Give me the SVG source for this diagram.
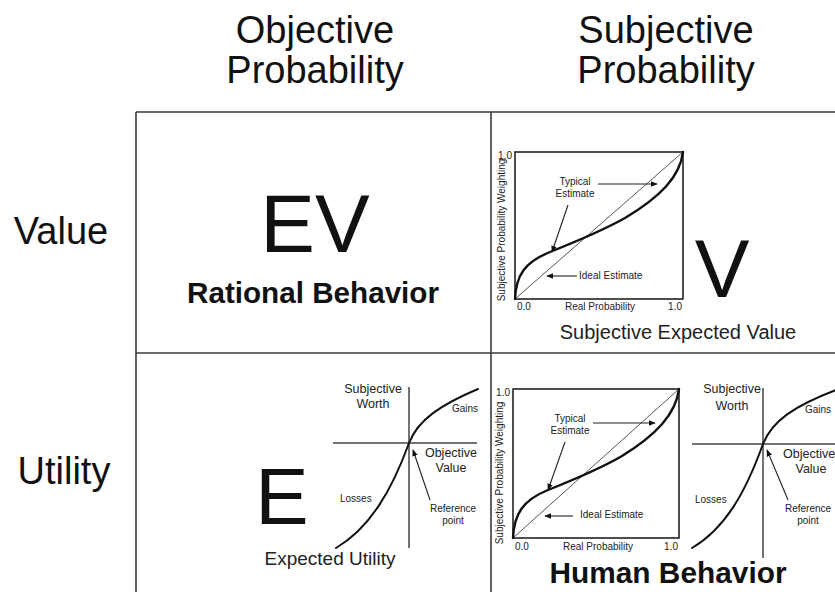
<svg xmlns="http://www.w3.org/2000/svg" width="835" height="592" viewBox="0 0 835 592">
  <defs>
    <marker id="head" viewBox="0 0 10 10" refX="9" refY="5" markerWidth="7" markerHeight="7" orient="auto" markerUnits="userSpaceOnUse">
      <path d="M0,1 L10,5 L0,9 z" fill="#111"/>
    </marker>
    <style>
      text { font-family: "Liberation Sans", Arial, sans-serif; fill: #111; }
      .hdr { font-size: 38px; text-anchor: middle; }
      .row { font-size: 38px; text-anchor: middle; }
      .big { font-size: 82px; text-anchor: middle; }
      .bold { font-size: 29px; font-weight: bold; text-anchor: middle; }
      .cap { font-size: 20px; text-anchor: middle; fill: #222; }
      .sm { font-size: 10px; fill: #222; }
      .mid { text-anchor: middle; }
      .end { text-anchor: end; }
      .md { font-size: 12.5px; fill: #222; }
      .grid { stroke: #3a3a3a; stroke-width: 1.6; fill: none; }
      .frame { stroke: #222; stroke-width: 1.6; fill: none; }
      .diag { stroke: #555; stroke-width: 1; fill: none; }
      .curve { stroke: #111; stroke-width: 2.4; fill: none; stroke-linecap: round; }
      .axis { stroke: #444; stroke-width: 1.5; fill: none; }
      .vcurve { stroke: #111; stroke-width: 2; fill: none; stroke-linecap: round; }
      .arrow { stroke: #222; stroke-width: 1.1; fill: none; marker-end: url(#head); }
    </style>
  </defs>

  <!-- table grid -->
  <g id="grid">
    <line class="grid" x1="136" y1="112" x2="835" y2="112"/>
    <line class="grid" x1="136" y1="112" x2="136" y2="592"/>
    <line class="grid" x1="491" y1="112" x2="491" y2="592"/>
    <line class="grid" x1="136" y1="353" x2="835" y2="353"/>
  </g>

  <!-- column headers -->
  <g id="col-objective">
    <text class="hdr" x="315" y="43">Objective</text>
    <text class="hdr" x="315" y="83">Probability</text>
  </g>
  <g id="col-subjective">
    <text class="hdr" x="666" y="43">Subjective</text>
    <text class="hdr" x="666" y="83">Probability</text>
  </g>

  <!-- row headers -->
  <g id="row-value"><text class="row" x="61" y="244">Value</text></g>
  <g id="row-utility"><text class="row" x="64" y="484">Utility</text></g>

  <!-- objective probability / value -->
  <g id="cell-ev">
    <text class="big" x="315" y="252">EV</text>
    <text class="bold" x="313" y="303" textLength="252" lengthAdjust="spacingAndGlyphs">Rational Behavior</text>
  </g>

  <!-- subjective probability / value -->
  <g id="cell-v">
    <g id="prob-chart-top" transform="translate(515,152)">
      <rect class="frame" x="0" y="0" width="168" height="147"/>
      <line class="diag" x1="0" y1="147" x2="168" y2="0"/>
      <path class="curve" d="M0,147 C1,123 10,110 35,100 C60,90 85,80 110,66 C145,45 165,25 168,0"/>
      <text class="sm end" x="-3" y="7">1.0</text>
      <text class="sm mid" transform="translate(-10,78) rotate(-90)">Subjective Probability Weighting</text>
      <text class="sm" x="2" y="158">0.0</text>
      <text class="sm mid" x="85" y="158">Real Probability</text>
      <text class="sm end" x="167" y="158">1.0</text>
      <text class="sm mid" x="60" y="33">Typical</text>
      <text class="sm mid" x="60" y="45">Estimate</text>
      <text class="sm" x="64" y="127">Ideal Estimate</text>
      <line class="arrow" x1="83" y1="32" x2="142" y2="32"/>
      <line class="arrow" x1="53" y1="53" x2="37" y2="100"/>
      <line class="arrow" x1="62" y1="124" x2="32" y2="124"/>
    </g>
    <text class="big" x="722" y="297">V</text>
    <text class="cap" x="678" y="339">Subjective Expected Value</text>
  </g>

  <!-- objective probability / utility -->
  <g id="cell-e">
    <text class="big" x="282" y="524" style="font-size:80px">E</text>
    <text class="cap" x="330" y="565" style="font-size:19px">Expected Utility</text>
    <g id="value-fn-left">
      <line class="axis" x1="409" y1="387" x2="409" y2="548"/>
      <line class="axis" x1="333" y1="443" x2="477" y2="443"/>
      <path class="vcurve" d="M336,548 C370,528 392,490 409,443 C418,420 440,405 478,389"/>
      <text class="md mid" x="373" y="393">Subjective</text>
      <text class="md mid" x="373" y="408">Worth</text>
      <text class="sm" x="452" y="412">Gains</text>
      <text class="md mid" x="451" y="457">Objective</text>
      <text class="md mid" x="451" y="472">Value</text>
      <text class="sm" x="340" y="502">Losses</text>
      <text class="sm mid" x="453" y="512">Reference</text>
      <text class="sm mid" x="453" y="524">point</text>
      <line class="arrow" x1="430" y1="500" x2="413" y2="450"/>
    </g>
  </g>

  <!-- subjective probability / utility -->
  <g id="cell-human">
    <g id="prob-chart-bottom" transform="translate(513,389)">
      <rect class="frame" x="0" y="0" width="166" height="149"/>
      <line class="diag" x1="0" y1="149" x2="166" y2="0"/>
      <path class="curve" d="M0,149 C1,125 10,111 35,101 C60,91 85,81 109,67 C143,46 163,25 166,0"/>
      <text class="sm end" x="-3" y="7">1.0</text>
      <text class="sm mid" transform="translate(-10,84) rotate(-90)">Subjective Probability Weighting</text>
      <text class="sm" x="2" y="161">0.0</text>
      <text class="sm mid" x="85" y="161">Real Probability</text>
      <text class="sm end" x="165" y="161">1.0</text>
      <text class="sm mid" x="57" y="33">Typical</text>
      <text class="sm mid" x="57" y="45">Estimate</text>
      <text class="sm" x="67" y="129">Ideal Estimate</text>
      <line class="arrow" x1="80" y1="34" x2="142" y2="34"/>
      <line class="arrow" x1="52" y1="53" x2="35" y2="101"/>
      <line class="arrow" x1="60" y1="127" x2="32" y2="127"/>
    </g>
    <g id="value-fn-right">
      <line class="axis" x1="763" y1="388" x2="763" y2="558"/>
      <line class="axis" x1="692" y1="444" x2="835" y2="444"/>
      <path class="vcurve" d="M692,548 C726,528 746,491 763,444 C772,421 794,406 836,390"/>
      <text class="md mid" x="732" y="393">Subjective</text>
      <text class="md mid" x="732" y="410">Worth</text>
      <text class="sm" x="805" y="413">Gains</text>
      <text class="md" x="783" y="458">Objective</text>
      <text class="md mid" x="811" y="473">Value</text>
      <text class="sm" x="695" y="503">Losses</text>
      <text class="sm mid" x="808" y="512">Reference</text>
      <text class="sm mid" x="808" y="524">point</text>
      <line class="arrow" x1="788" y1="500" x2="767" y2="450"/>
    </g>
    <text class="bold" x="668" y="583" textLength="237" lengthAdjust="spacingAndGlyphs">Human Behavior</text>
  </g>
</svg>
